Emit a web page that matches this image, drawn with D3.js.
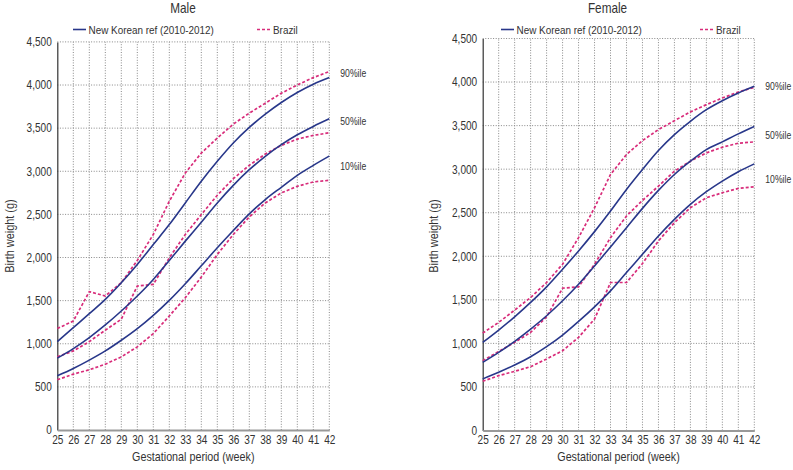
<!DOCTYPE html>
<html><head><meta charset="utf-8">
<script src="https://cdn.jsdelivr.net/npm/d3@7"></script>
<style>
body{margin:0;background:#fff;}
svg{display:block;font-family:"Liberation Sans",Arial,Helvetica,sans-serif;}
</style></head>
<body><svg id="c" width="793" height="470"></svg>
<script>
const weeks = [25,26,27,28,29,30,31,32,33,34,35,36,37,38,39,40,41,42];
const yTicks = [0,500,1000,1500,2000,2500,3000,3500,4000,4500];
const seriesNames = ["New Korean ref (2010-2012)","Brazil"];
const pctLabels = ["90%ile","50%ile","10%ile"];

// Male
const maleKorean90 = [1025,1187,1349,1515,1708,1920,2151,2382,2633,2884,3115,3327,3508,3662,3797,3913,4009,4086];
const maleKorean50 = [833,944,1072,1218,1380,1554,1746,1966,2190,2409,2633,2837,3018,3173,3308,3423,3520,3608];
const maleKorean10 = [628,713,810,917,1041,1176,1330,1503,1696,1904,2113,2313,2506,2672,2814,2953,3069,3177];
const maleBrazil90 = [1176,1264,1604,1554,1708,1966,2267,2652,2980,3211,3385,3547,3674,3789,3905,4001,4086,4156];
const maleBrazil50 = [848,917,1025,1157,1284,1669,1688,1997,2267,2498,2722,2914,3069,3200,3300,3373,3416,3446];
const maleBrazil10 = [582,648,698,763,848,964,1118,1322,1534,1773,2035,2267,2471,2633,2749,2826,2876,2895];
const maleLabelPos = [4140,3575,3060];

// Female
const femaleKorean90 = [1011,1153,1305,1470,1649,1851,2061,2283,2519,2767,2996,3214,3397,3550,3683,3786,3874,3951];
const femaleKorean50 = [782,897,1023,1164,1317,1489,1679,1889,2107,2328,2550,2756,2939,3092,3225,3313,3405,3489];
const femaleKorean10 = [592,668,752,847,962,1095,1252,1420,1603,1813,2023,2233,2424,2596,2741,2863,2970,3061];
const femaleBrazil90 = [1118,1241,1382,1527,1699,1909,2214,2557,2939,3168,3328,3454,3557,3657,3741,3817,3886,3939];
const femaleBrazil50 = [802,908,1012,1126,1305,1634,1649,1909,2214,2462,2641,2805,2977,3092,3187,3252,3298,3313];
const femaleBrazil10 = [565,630,679,733,821,916,1069,1279,1699,1699,1916,2176,2386,2557,2672,2729,2779,2798];
const femaleLabelPos = [3955,3393,2887];

const panels = [
  {title:"Male", korean:[maleKorean90,maleKorean50,maleKorean10], brazil:[maleBrazil90,maleBrazil50,maleBrazil10], labels:maleLabelPos,
   x0:57.3, x1:329.3, yb:430, yt:41.9, legX:73, brX:257, ylabX:9, titleX:183},
  {title:"Female", korean:[femaleKorean90,femaleKorean50,femaleKorean10], brazil:[femaleBrazil90,femaleBrazil50,femaleBrazil10], labels:femaleLabelPos,
   x0:482.7, x1:754.3, yb:430.5, yt:38.5, legX:501, brX:700, ylabX:433, titleX:607.5}
];

const BLUE = "#28378a", PINK = "#d82c7a", TXT = "#333";
const SX = 0.84; // condensed look
const svg = d3.select("#c");

function stext(g, x, y, str, size, anchor, rot) {
  return g.append("text")
    .attr("transform", `translate(${x},${y})` + (rot ? ` rotate(${rot})` : "") + ` scale(${SX},1)`)
    .attr("text-anchor", anchor || "start").attr("dy", "0.35em")
    .attr("font-size", size).attr("fill", TXT).text(str);
}

panels.forEach(p => {
  const g = svg.append("g");
  const x = d3.scaleLinear().domain([25,42]).range([p.x0,p.x1]);
  const y = d3.scaleLinear().domain([0,4500]).range([p.yb,p.yt]);

  // grid
  g.append("g").selectAll("line").data(yTicks.filter(d=>d>0)).join("line")
    .attr("x1",p.x0).attr("x2",p.x1).attr("y1",d=>y(d)).attr("y2",d=>y(d))
    .attr("stroke","#888").attr("stroke-width",1).attr("stroke-dasharray","1,1.6");
  g.append("g").selectAll("line").data(weeks.filter(d=>d>25)).join("line")
    .attr("x1",d=>x(d)).attr("x2",d=>x(d)).attr("y1",p.yb).attr("y2",p.yt)
    .attr("stroke","#888").attr("stroke-width",1).attr("stroke-dasharray","1,1.6");

  // axes
  const ya = g.append("g").attr("transform",`translate(${p.x0},0)`)
    .call(d3.axisLeft(y).tickValues(yTicks).tickFormat(d3.format(",")).tickSize(0).tickPadding(6));
  ya.select(".domain").attr("stroke","#333").attr("stroke-width",1.2);
  ya.selectAll("text").attr("font-size",12).attr("fill",TXT).attr("font-family","inherit")
    .attr("x",-5.5/SX).attr("transform",`scale(${SX},1)`);
  const xa = g.append("g").attr("transform",`translate(0,${p.yb})`)
    .call(d3.axisBottom(x).tickValues(weeks).tickFormat(d3.format("d")).tickSize(0).tickPadding(5));
  xa.select(".domain").attr("stroke","#999").attr("stroke-width",1.8);
  xa.selectAll("text").attr("font-size",12).attr("fill",TXT).attr("font-family","inherit")
    .attr("transform",`scale(${SX},1)`);

  const line = d3.line().x((d,i)=>x(weeks[i])).y(d=>y(d)).curve(d3.curveMonotoneX);
  const lineLin = d3.line().x((d,i)=>x(weeks[i])).y(d=>y(d));
  p.brazil.forEach(s => g.append("path").attr("d",lineLin(s)).attr("fill","none")
    .attr("stroke",PINK).attr("stroke-width",1.7).attr("stroke-dasharray","3,2"));
  p.korean.forEach(s => g.append("path").attr("d",line(s)).attr("fill","none")
    .attr("stroke",BLUE).attr("stroke-width",1.6));

  // percentile labels
  p.labels.forEach((v,i) => stext(g, p.x1+11, y(v), pctLabels[i], 10.3));

  // title
  stext(g, p.titleX, 8, p.title, 14, "middle");

  // legend
  g.append("line").attr("x1",p.legX).attr("x2",p.legX+13).attr("y1",29.5).attr("y2",29.5)
    .attr("stroke",BLUE).attr("stroke-width",1.6);
  stext(g, p.legX+15.5, 29.5, seriesNames[0], 11.8);
  g.append("line").attr("x1",p.brX).attr("x2",p.brX+13).attr("y1",29.5).attr("y2",29.5)
    .attr("stroke",PINK).attr("stroke-width",1.7).attr("stroke-dasharray","3,2");
  stext(g, p.brX+16, 29.5, seriesNames[1], 11.8);

  // axis titles
  stext(g, p.ylabX, 236, "Birth weight (g)", 13, "middle", -90);
  stext(g, (p.x0+p.x1)/2, 457, "Gestational period (week)", 12.8, "middle");
});
</script></body></html>
